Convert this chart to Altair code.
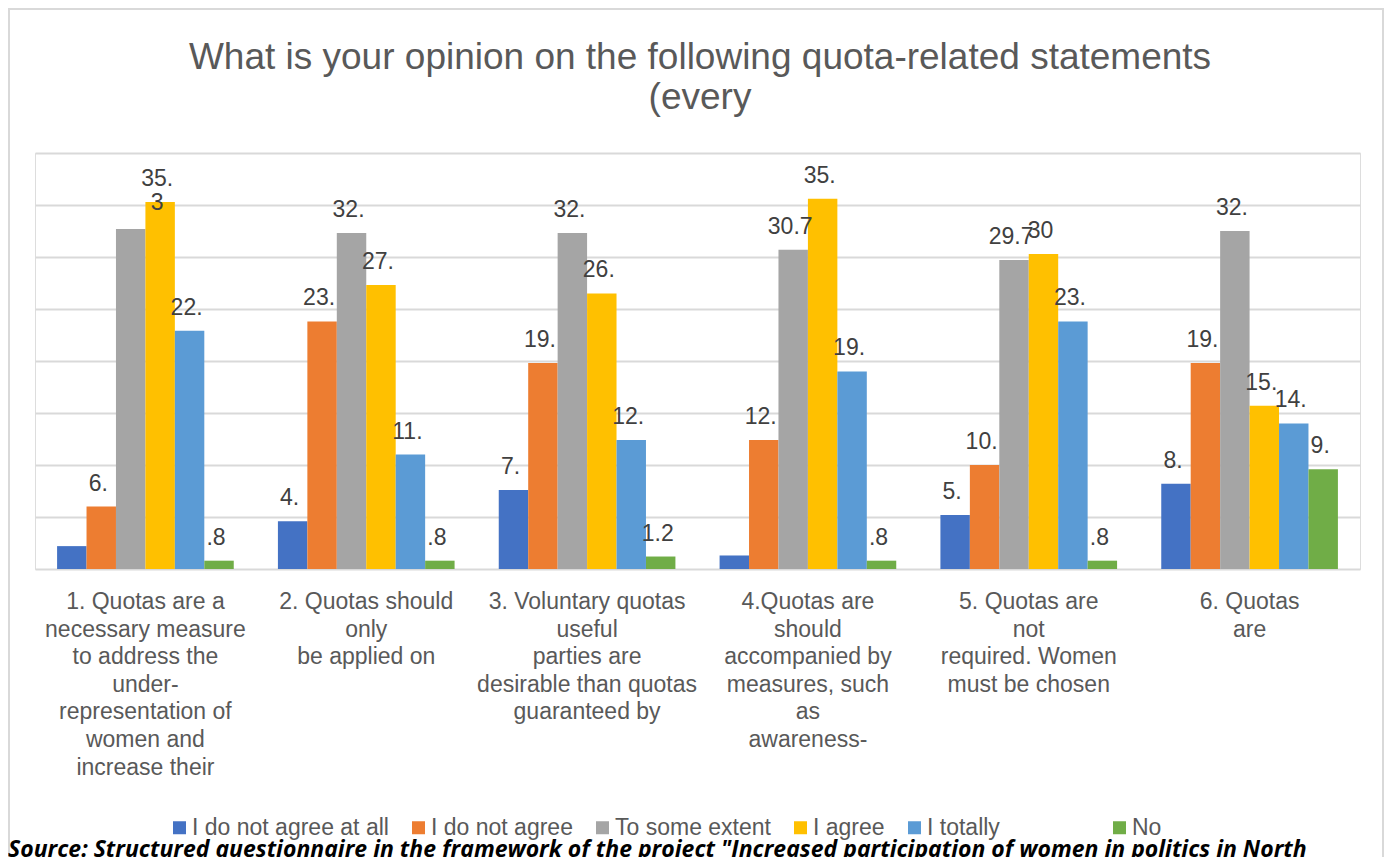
import altair as alt
import pandas as pd

# ---------------- data ----------------
categories = [
    "1. Quotas are a|necessary measure|to address the|under-|representation of|women and|increase their",
    "2. Quotas should|only|be applied on",
    "3. Voluntary quotas|useful|parties are|desirable than quotas|guaranteed by",
    "4.Quotas are||should|accompanied by|measures, such|as|awareness-",
    "5. Quotas are|not|required. Women|must be chosen",
    "6. Quotas|are",
]
series = ["I do not agree at all", "I do not agree", "To some extent", "I agree", "I totally", "No"]
colors = ["#4472C4", "#ED7D31", "#A5A5A5", "#FFC000", "#5B9BD5", "#70AD47"]

v_not_at_all = [2.2, 4.6, 7.6, 1.3, 5.2, 8.2]
v_not_agree = [6.0, 23.8, 19.8, 12.4, 10.0, 19.8]
v_some_extent = [32.7, 32.3, 32.3, 30.7, 29.7, 32.5]
v_agree = [35.3, 27.3, 26.5, 35.6, 30.3, 15.7]
v_totally = [22.9, 11.0, 12.4, 19.0, 23.8, 14.0]
v_no = [0.8, 0.8, 1.2, 0.8, 0.8, 9.6]

l_not_at_all = ["", "4.", "7.", "", "5.", "8."]
l_not_agree = ["6.", "23.", "19.", "12.", "10.", "19."]
l_some_extent = ["", "32.", "32.", "30.7", "29.7", "32."]
l_agree = ["35.|3", "27.", "26.", "35.", "30", "15."]
l_totally = ["22.", "11.", "12.", "19.", "23.", "14."]
l_no = [".8", ".8", "1.2", ".8", ".8", "9."]

title_lines = ["What is your opinion on the following quota-related statements", "(every"]
source_text = 'Source: Structured questionnaire in the framework of the project "Increased participation of women in politics in North'

# ---------------- tables ----------------
all_values = [v_not_at_all, v_not_agree, v_some_extent, v_agree, v_totally, v_no]
all_labels = [l_not_at_all, l_not_agree, l_some_extent, l_agree, l_totally, l_no]
rows = []
for s, vals, labs in zip(series, all_values, all_labels):
    for c, v, l in zip(categories, vals, labs):
        rows.append({"cat": c, "series": s, "value": v, "lbl": l})
df = pd.DataFrame(rows)
cat_df = pd.DataFrame({"cat": categories})
src_df = pd.DataFrame({"t": [source_text]})
title_df = pd.DataFrame({"t": ["|".join(title_lines)]})

W, H = 1325, 416
FONT = "Liberation Sans"

x_enc = alt.X("cat:N", sort=categories, axis=None,
              scale=alt.Scale(paddingInner=0.2, paddingOuter=0.1))
xo_enc = alt.XOffset("series:N", sort=series, scale=alt.Scale(paddingInner=0, paddingOuter=0))
y_enc = alt.Y("value:Q", scale=alt.Scale(domain=[0, 40], nice=False),
              axis=alt.Axis(values=[0, 5, 10, 15, 20, 25, 30, 35, 40], labels=False, ticks=False,
                            domain=False, grid=True, gridColor="#d9d9d9", gridWidth=2, title=None))

pad = "\u00a0" * 14 + "\u200b"
legend = alt.Legend(orient="none", legendX=133, legendY=663, direction="horizontal", title=None,
                    symbolType="square", symbolSize=169, symbolStrokeWidth=0,
                    labelFontSize=23, labelColor="#595959", labelFont=FONT,
                    columnPadding=18, labelOffset=1, labelLimit=0,
                    labelExpr="datum.label == 'I totally' ? 'I totally" + pad + "' : datum.label")

bars = alt.Chart(df).mark_bar().encode(
    x=x_enc, xOffset=xo_enc, y=y_enc,
    color=alt.Color("series:N", sort=series,
                    scale=alt.Scale(domain=series, range=colors), legend=legend),
)

value_labels = alt.Chart(df).transform_calculate(
    lines="split(datum.lbl, '|')"
).mark_text(baseline="top", align="center", dy=-34, dx=-3, fontSize=23, font=FONT,
            color="#404040", lineHeight=24).encode(
    x=x_enc, xOffset=xo_enc, y=alt.Y("value:Q"), text="lines:N"
)

cat_labels = alt.Chart(cat_df).transform_calculate(
    lines="split(datum.cat, '|')"
).mark_text(baseline="top", align="center", fontSize=23, font=FONT, color="#595959",
            lineHeight=27.6).encode(
    x=alt.X("cat:N", sort=categories), y=alt.value(438), text="lines:N"
)

title = alt.Chart(title_df).transform_calculate(
    lines="split(datum.t, '|')"
).mark_text(baseline="alphabetic", align="center", fontSize=37, font=FONT, color="#595959",
            lineHeight=40).encode(
    x=alt.value(665), y=alt.value(-84), text="lines:N"
)

frame = alt.Chart(cat_df).mark_rect(fill=None, stroke="#d9d9d9", strokeWidth=2).encode(
    x=alt.value(-26), x2=alt.value(1348), y=alt.value(-144), y2=alt.value(760)
)

source = alt.Chart(src_df).mark_text(align="left", baseline="alphabetic", fontSize=23,
                                     font="Open Sans", fontStyle="italic", fontWeight="bold",
                                     color="#000000").encode(
    x=alt.value(-27), y=alt.value(704), text="t:N"
)

chart = alt.layer(frame, title, bars, value_labels, cat_labels, source).properties(
    width=W, height=H,
    autosize=alt.AutoSizeParams(type="none"),
    padding={"left": 27, "top": 145, "right": 25, "bottom": 288},
).configure_view(stroke=None).configure(background="white")

chart.save("out.html", embed_options={"renderer": "svg", "actions": False})
